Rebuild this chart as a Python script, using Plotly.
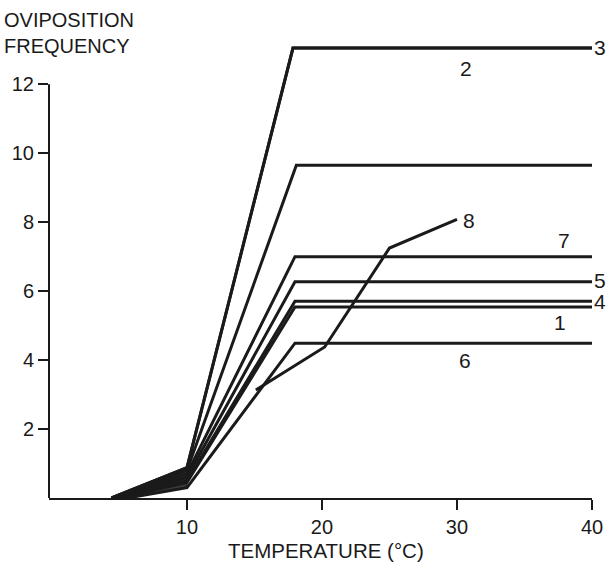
import plotly.graph_objects as go

# Data (temperature in °C, oviposition frequency)
x_line1 = [5.0, 10, 18.0, 40]
y_line1 = [0, 0.45, 5.54, 5.54]
x_line2 = [4.4, 10, 17.85, 40]
y_line2 = [0, 0.88, 13.05, 13.05]
x_line3 = [4.4, 10, 17.85, 40]
y_line3 = [0, 0.88, 13.05, 13.05]
x_line4 = [4.9, 10, 18.0, 40]
y_line4 = [0, 0.5, 5.71, 5.71]
x_line5 = [4.8, 10, 18.0, 40]
y_line5 = [0, 0.6, 6.27, 6.27]
x_line6 = [5.6, 10, 18.0, 40]
y_line6 = [0, 0.3, 4.49, 4.49]
x_line7 = [4.6, 10, 18.0, 40]
y_line7 = [0, 0.7, 7.0, 7.0]
x_line8 = [15.1, 20.2, 25.0, 30.0]
y_line8 = [3.13, 4.38, 7.25, 8.08]
x_lineU = [4.5, 10, 18.1, 40]   # unlabelled curve
y_lineU = [0, 0.8, 9.65, 9.65]

series = [
    ("1", x_line1, y_line1), ("2", x_line2, y_line2), ("3", x_line3, y_line3),
    ("4", x_line4, y_line4), ("5", x_line5, y_line5), ("6", x_line6, y_line6),
    ("7", x_line7, y_line7), ("8", x_line8, y_line8), ("", x_lineU, y_lineU),
]

# curve labels inside the plot (data coords)
label_text = ["2", "8", "7", "1", "6"]
label_x = [30.7, 30.9, 37.9, 37.65, 30.6]
label_y = [12.46, 8.06, 7.48, 5.1, 4.0]
# curve labels at the right end of lines (just past x = 40)
end_text = ["3", "5", "4"]
end_y = [13.07, 6.32, 5.71]

x_ticks = [10, 20, 30, 40]
y_ticks = [2, 4, 6, 8, 10, 12]
X_RANGE = [-0.22, 40]

FONT = "Liberation Sans, Arial, sans-serif"
INK = "#1a1a1a"

fig = go.Figure()

# dense overlapping region of the curves below 10 °C (outline from curves 3 and 6)
wedge_x = x_line3[:2] + x_line6[1::-1]
wedge_y = y_line3[:2] + y_line6[1::-1]
fig.add_trace(go.Scatter(x=wedge_x, y=wedge_y, mode="lines", fill="toself",
                         fillcolor="#3a3a3a", line=dict(color=INK, width=1),
                         showlegend=False, hoverinfo="skip"))

for name, xs, ys in series:
    fig.add_trace(go.Scatter(x=xs, y=ys, mode="lines", name=name,
                             line=dict(color=INK, width=3),
                             showlegend=False, hoverinfo="skip"))

for t, lx, ly in zip(label_text, label_x, label_y):
    fig.add_annotation(x=lx, y=ly, xref="x", yref="y", text=t, showarrow=False,
                       xanchor="center", yanchor="middle",
                       font=dict(family=FONT, size=21, color=INK))
for t, ly in zip(end_text, end_y):
    fig.add_annotation(x=1.0, y=ly, xref="paper", yref="y", text=t, showarrow=False,
                       xanchor="left", yanchor="middle", xshift=0,
                       font=dict(family=FONT, size=21, color=INK))

# y-axis line only from 0 to 12
fig.add_shape(type="line", xref="paper", yref="y", x0=0, x1=0, y0=0, y1=12,
              line=dict(color=INK, width=2))

fig.add_annotation(xref="paper", yref="paper", x=-0.078, y=1.0346, xshift=-5,
                   text="OVIPOSITION", showarrow=False, xanchor="left",
                   yanchor="middle", font=dict(family=FONT, size=20, color=INK))
fig.add_annotation(xref="paper", yref="paper", x=-0.078, y=0.979, xshift=-5,
                   text="FREQUENCY", showarrow=False, xanchor="left",
                   yanchor="middle", font=dict(family=FONT, size=20, color=INK))
fig.add_annotation(xref="paper", yref="paper", x=(327 - 45) / 552, y=(498 - 550) / 462,
                   text="TEMPERATURE (°C)", showarrow=False, xanchor="center",
                   yanchor="middle", font=dict(family=FONT, size=20.5, color=INK))

fig.update_layout(
    width=615, height=568,
    margin=dict(l=45, r=18, t=36, b=70),
    paper_bgcolor="white", plot_bgcolor="white",
    font=dict(family=FONT, size=20, color=INK),
    xaxis=dict(range=X_RANGE, tickvals=x_ticks, ticks="outside", ticklen=10,
               tickwidth=2, tickcolor=INK, showline=True, linecolor=INK,
               linewidth=2, showgrid=False, zeroline=False,
               tickfont=dict(family=FONT, size=20, color=INK)),
    yaxis=dict(range=[0, 13.4], tickvals=y_ticks, ticks="outside", ticklen=10,
               tickwidth=2, tickcolor=INK, showline=False, showgrid=False,
               zeroline=False, ticklabelstandoff=0,
               tickfont=dict(family=FONT, size=20, color=INK)),
)

fig.write_html("out.html")
